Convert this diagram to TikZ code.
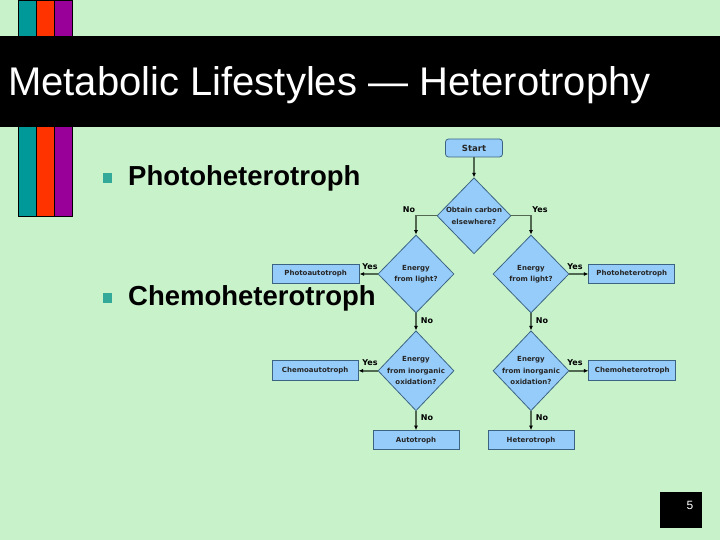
\documentclass[tikz,border=0pt]{standalone}
\usepackage{fontspec}
\setmainfont{Liberation Sans}
\newfontfamily\flowfont{DejaVu Sans}
\usepackage{xcolor}
\definecolor{SlideGreen}{RGB}{200,242,202}
\definecolor{StripeTeal}{RGB}{0,153,153}
\definecolor{StripeRed}{RGB}{255,51,0}
\definecolor{StripePurple}{RGB}{153,0,153}
\definecolor{BulletTeal}{RGB}{51,170,153}
\definecolor{BoxBlue}{RGB}{150,204,250}
\definecolor{BoxEdge}{RGB}{60,100,130}
\definecolor{LineGreen}{RGB}{80,105,80}
\usetikzlibrary{positioning, shapes.geometric, arrows.meta}

\begin{document}
\begin{tikzpicture}[
    x=1pt, y=-1pt,
    node distance=18pt and 18pt,
    stripe/.style={draw=black, line width=0.8pt},
    bullet/.style={fill=BulletTeal, minimum width=9pt, minimum height=10pt, inner sep=0pt},
    point/.style={anchor=west, inner sep=0pt, font=\fontsize{27.5}{30}\selectfont\bfseries},
    block/.style={rectangle, draw=BoxEdge, fill=BoxBlue, line width=0.8pt, inner sep=0pt,
        font=\flowfont\bfseries\fontsize{7}{8}\selectfont, text=black!85},
    startbox/.style={block, rounded corners=3pt, minimum width=57pt, minimum height=18pt,
        font=\flowfont\bfseries\fontsize{8.5}{10}\selectfont},
    result/.style={block, minimum width=86pt, minimum height=19pt},
    choice/.style={diamond, draw=BoxEdge, fill=BoxBlue, line width=0.8pt, inner sep=-6pt,
        minimum width=76pt, minimum height=78pt, align=center,
        font=\flowfont\bfseries\fontsize{7}{11.5}\selectfont, text=black!85},
    lbl/.style={font=\flowfont\bfseries\fontsize{8}{9}\selectfont, inner sep=0pt},
    arrow/.style={-{Latex[length=4.5pt, width=4pt, color=black]}, line width=1.4pt, draw=LineGreen},
]

% Background
\fill[SlideGreen] (0,0) rectangle (720,540);
\useasboundingbox (0,0) rectangle (720,540);

% Colour stripes
\filldraw[stripe, fill=StripeTeal] (18,0) rectangle (36,216);
\filldraw[stripe, fill=StripeRed] (36,0) rectangle (54,216);
\filldraw[stripe, fill=StripePurple] (54,0) rectangle (72,216);

% Title band
\fill[black] (0,36) rectangle (720,127);
\node[anchor=base west, text=white, inner sep=0pt,
    font=\fontsize{40}{44}\selectfont] (title) at (8,96) {Metabolic Lifestyles — Heterotrophy};

% Bullets
\node[bullet] (b1) at (107.5,178) {};
\node[point] (photo) at (128,178) {Photoheterotroph};
\node[bullet] (b2) at (107.5,298) {};
\node[point] (chemo) at (128,298) {Chemoheterotroph};

% Flowchart
\node[startbox] (start) at (474,148) {Start};
\node[choice, below=20pt of start, minimum width=74pt, minimum height=76pt] (carbon) {Obtain carbon\\elsewhere?};
\node[choice] (lightL) at (416,274) {Energy\\from light?};
\node[choice] (lightR) at (531,274) {Energy\\from light?};
\node[result, left=18pt of lightL, minimum width=87pt] (photoauto) {Photoautotroph};
\node[result, right=19pt of lightR] (photohetero) {Photoheterotroph};
\node[choice, below=17pt of lightL, minimum height=80pt] (inorgL) {Energy\\from inorganic\\oxidation?};
\node[choice, below=17pt of lightR, minimum height=80pt] (inorgR) {Energy\\from inorganic\\oxidation?};
\node[result, left=19pt of inorgL, minimum height=20pt] (chemoauto) {Chemoautotroph};
\node[result, right=19pt of inorgR, minimum width=87pt, minimum height=20pt] (chemohetero) {Chemoheterotroph};
\node[result, below=19pt of inorgL] (auto) {Autotroph};
\node[result, below=19pt of inorgR] (hetero) {Heterotroph};

% Connectors
\draw[arrow] (start) -- (carbon);
\draw[arrow] (carbon.west) -| (lightL.north);
\draw[arrow] (carbon.east) -| (lightR.north);
\draw[arrow] (lightL) -- (photoauto);
\draw[arrow] (lightR) -- (photohetero);
\draw[arrow] (lightL) -- (inorgL);
\draw[arrow] (lightR) -- (inorgR);
\draw[arrow] (inorgL) -- (chemoauto);
\draw[arrow] (inorgR) -- (chemohetero);
\draw[arrow] (inorgL) -- (auto);
\draw[arrow] (inorgR) -- (hetero);

% Branch labels
\node[lbl] (noC) at (409,210) {No};
\node[lbl] (yesC) at (540,210) {Yes};
\node[lbl] (yesLL) at (370,267) {Yes};
\node[lbl] (yesLR) at (575,267) {Yes};
\node[lbl] (noLL) at (427,321) {No};
\node[lbl] (noLR) at (542,321) {No};
\node[lbl] (yesIL) at (370,363) {Yes};
\node[lbl] (yesIR) at (575,363) {Yes};
\node[lbl] (noIL) at (427,418) {No};
\node[lbl] (noIR) at (542,418) {No};

% Page number
\fill[black] (660,492) rectangle (702,528);
\node[text=white, font=\fontsize{12}{14}\selectfont, inner sep=0pt] (page) at (690,505) {5};

\end{tikzpicture}
\end{document}
